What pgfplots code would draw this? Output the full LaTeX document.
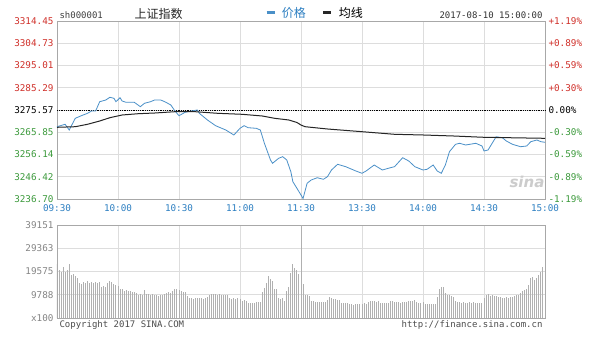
\documentclass[border=0pt]{standalone}
\usepackage{fontspec}
\setmainfont{DejaVu Sans Mono}
\newfontfamily\cjk{Noto Sans CJK SC}
\newfontfamily\sinafont{DejaVu Sans}
\usepackage{pgfplots}
\pgfplotsset{compat=1.18}
\usepackage{pgfplotstable}
\definecolor{sred}{HTML}{D0302A}
\definecolor{sgreen}{HTML}{3C9A3C}
\definecolor{sblue}{HTML}{2E80C2}
\definecolor{pline}{HTML}{4A90C8}
\definecolor{gridc}{HTML}{DDDDDD}
\definecolor{borderc}{HTML}{A8A8A8}
\definecolor{volc}{HTML}{B0B0B0}
\definecolor{vlab}{HTML}{858585}

\pgfplotstableread{
t p
0 3268.28
4 3269.33
6 3266.84
9 3271.95
12 3273.09
15 3274.13
17 3275.14
19 3275.14
21 3279.20
24 3279.94
26 3281.12
28 3280.69
29 3279.20
31 3280.95
32 3279.51
34 3278.94
38 3278.94
41 3277.02
43 3278.50
46 3279.20
48 3279.94
51 3279.94
53 3279.20
56 3277.76
58 3275.14
60 3273.09
63 3274.57
66 3275.14
69 3275.58
70 3274.13
74 3271.21
78 3268.72
83 3266.84
87 3264.66
90 3267.58
92 3268.72
94 3267.84
98 3267.58
100 3266.84
102 3261.03
105 3253.74
106 3252.29
109 3254.48
111 3255.18
113 3253.74
115 3248.62
116 3244.26
118 3241.37
120 3238.45
121 3236.90
123 3243.56
125 3245.00
128 3246.00
131 3245.30
133 3246.44
135 3249.37
138 3251.86
142 3250.81
147 3248.93
150 3247.93
152 3248.93
156 3251.55
160 3249.37
164 3250.37
166 3250.81
170 3254.74
173 3253.30
176 3250.81
180 3249.37
182 3249.67
185 3251.55
187 3248.93
189 3247.93
191 3251.55
193 3257.36
196 3260.59
198 3261.03
201 3260.29
203 3260.59
206 3261.03
209 3259.85
210 3257.67
212 3258.10
214 3261.03
216 3263.91
219 3263.48
221 3262.03
224 3260.59
228 3259.54
231 3259.85
233 3261.73
236 3262.47
238 3261.73
240 3261.47
}\price

\pgfplotstableread{
t a
0 3268.02
9 3268.28
15 3269.33
21 3270.77
26 3272.21
32 3273.39
40 3273.96
48 3274.26
58 3274.83
68 3274.83
79 3274.13
91 3273.70
101 3272.95
107 3271.95
114 3271.21
118 3270.12
120 3269.02
122 3268.28
133 3267.28
150 3266.10
166 3264.96
180 3264.66
195 3264.22
210 3263.65
240 3263.21
}\avgline

\pgfplotstableread{
t v
0 22600
1 20200
2 19500
3 21600
4 19500
5 20000
6 22700
7 18100
8 18400
9 17800
10 16700
11 14900
12 14300
13 15200
14 14600
15 15600
16 14800
17 15300
18 14900
19 15100
20 14700
21 15000
22 13000
23 13300
24 13100
25 14700
26 15600
27 15300
28 14200
29 14000
30 13500
31 12400
32 12100
33 11400
34 11600
35 11200
36 11500
37 10900
38 11000
39 10400
40 9700
41 9900
42 9600
43 11800
44 9900
45 10100
46 9800
47 9900
48 9700
49 9500
50 9400
51 9600
52 9800
53 9900
54 10500
55 10800
56 10400
57 11200
58 12000
59 12300
60 11800
61 11500
62 11000
63 10800
64 9200
65 8400
66 8600
67 8200
68 8500
69 8300
70 8600
71 8400
72 8200
73 8500
74 8700
75 9600
76 10000
77 10200
78 10000
79 9800
80 10100
81 9600
82 9700
83 9500
84 9600
85 8600
86 8200
87 8400
88 8000
89 8300
90 7900
91 7200
92 7400
93 7100
94 6400
95 6300
96 6200
97 6500
98 6800
99 6700
100 6900
101 11000
102 12800
103 14700
104 17800
105 16600
106 15600
107 12200
108 12400
109 8400
110 8200
111 8600
112 7000
113 11200
114 13000
115 18900
116 22600
117 21000
118 20200
119 18400
120 39151
121 14200
122 9800
123 9500
124 9200
125 7200
126 7000
127 6900
128 6800
129 6700
130 6900
131 6800
132 6600
133 7400
134 8700
135 8500
136 7900
137 7800
138 7600
139 7400
140 6500
141 6300
142 6200
143 6400
144 5900
145 5800
146 5600
147 5900
148 5700
149 5800
150 6000
151 6200
152 6100
153 6900
154 7000
155 7200
156 7100
157 6800
158 7000
159 6500
160 6300
161 6200
162 6400
163 6300
164 7000
165 7200
166 6900
167 6600
168 6700
169 6500
170 6600
171 6800
172 6600
173 7200
174 7300
175 7100
176 7400
177 6800
178 6500
179 6400
180 6600
181 6000
182 5800
183 5700
184 5900
185 5800
186 6100
187 9000
188 12400
189 13200
190 13000
191 10400
192 9600
193 9800
194 9200
195 8800
196 7000
197 6800
198 6700
199 6500
200 6600
201 6300
202 6400
203 6600
204 6500
205 6700
206 6400
207 6300
208 6200
209 6500
210 8600
211 9800
212 10200
213 9300
214 9600
215 9200
216 9400
217 9000
218 8700
219 8600
220 8500
221 8700
222 8600
223 8800
224 8700
225 9300
226 9500
227 9700
228 10600
229 11400
230 11800
231 12400
232 14000
233 16800
234 17400
235 16000
236 16800
237 18100
238 19200
239 21600
240 19500
}\vol

\begin{document}
\begin{tikzpicture}
\useasboundingbox (0pt,0pt) rectangle (605pt,341pt);
\fill[white] (0pt,0pt) rectangle (605pt,341pt);
\pgfplotsset{
  every axis/.append style={
    scale only axis, width=488pt, anchor=south west,
    xmin=0, xmax=240,
    major tick length=0pt,
    tick label style={font=\fontsize{9.3}{10}\selectfont},
  }
}
% price panel
\begin{axis}[
  at={(57pt,142pt)}, height=178pt,
  ymin=3236.70, ymax=3314.45,
  axis line style={borderc},
  grid=major, major grid style={gridc, line width=0.6pt},
  xtick={0,30,60,90,120,150,180,210,240},
  xticklabels={09:30,10:00,10:30,11:00,11:30,13:30,14:00,14:30,15:00},
  xticklabel style={text=sblue, yshift=-2.5pt},
  ytick={3236.70,3246.42,3256.14,3265.85,3275.57,3285.29,3295.01,3304.73,3314.45},
  yticklabels={{\textcolor{sgreen}{3236.70}},{\textcolor{sgreen}{3246.42}},{\textcolor{sgreen}{3256.14}},{\textcolor{sgreen}{3265.85}},{3275.57},{\textcolor{sred}{3285.29}},{\textcolor{sred}{3295.01}},{\textcolor{sred}{3304.73}},{\textcolor{sred}{3314.45}}},
  ytick pos=left,
  legend columns=2,
  legend style={draw=none, fill=none, at={(0.426,1.0)}, anchor=south west, inner sep=0pt,
    font=\cjk\fontsize{12}{13}\selectfont, /tikz/every even column/.append style={column sep=14pt}},
  legend image code/.code={\draw[#1, line width=3pt] (0pt,0pt) -- (8pt,0pt); \path (13pt,0pt);},
  clip=false,
]
\addplot[black, densely dotted, line width=0.8pt, forget plot] coordinates {(0,3275.57) (240,3275.57)};
\addplot[pline, line width=0.8pt] table[x=t, y=p] {\price};
\addlegendentry{\textcolor{sblue}{价格}}
\addplot[black!85, line width=1pt] table[x=t, y=a] {\avgline};
\addlegendentry{均线}
\end{axis}
% right percentage labels
\begin{axis}[
  at={(57pt,142pt)}, height=178pt,
  ymin=3236.70, ymax=3314.45,
  axis x line=none, axis y line*=right,
  y axis line style={draw=none},
  xtick=\empty,
  ytick={3236.70,3246.42,3256.14,3265.85,3275.57,3285.29,3295.01,3304.73,3314.45},
  yticklabels={{\textcolor{sgreen}{-1.19\%}},{\textcolor{sgreen}{-0.89\%}},{\textcolor{sgreen}{-0.59\%}},{\textcolor{sgreen}{-0.30\%}},{0.00\%},{\textcolor{sred}{+0.30\%}},{\textcolor{sred}{+0.59\%}},{\textcolor{sred}{+0.89\%}},{\textcolor{sred}{+1.19\%}}},
]
\addplot[draw=none] coordinates {(0,3260) (240,3260)};
\end{axis}
% volume panel
\begin{axis}[
  at={(57pt,23pt)}, height=93pt,
  ymin=0, ymax=39151,
  axis line style={borderc},
  grid=major, major grid style={gridc, line width=0.6pt},
  xtick={0,30,60,90,120,150,180,210,240},
  xticklabels={},
  ytick={0,9788,19575,29363,39151},
  yticklabels={x100,9788,19575,29363,39151},
  yticklabel style={text=vlab},
  ytick pos=left,
  scaled y ticks=false,
]
\addplot[ycomb, volc, line width=1pt, mark=none] table[x=t, y=v] {\vol};
\end{axis}
% header and footer texts
\node[anchor=west, text=black!75, font=\fontsize{9}{10}\selectfont] at (56pt,326pt) {sh000001};
\node[anchor=west, text=black!85, font=\cjk\fontsize{12}{13}\selectfont] at (131pt,327pt) {上证指数};
\node[anchor=east, text=black!80, font=\fontsize{9}{10}\selectfont] at (546pt,326pt) {2017-08-10 15:00:00};
\node[anchor=west, text=black!70, font=\fontsize{9}{10}\selectfont] at (56pt,16pt) {Copyright 2017 SINA.COM};
\node[anchor=east, text=black!70, font=\fontsize{9}{10}\selectfont] at (546pt,16pt) {http://finance.sina.com.cn};
\node[text=black!20, font=\sinafont\bfseries\itshape\fontsize{15}{15}\selectfont] at (527pt,159pt) {sina};
\end{tikzpicture}
\end{document}
